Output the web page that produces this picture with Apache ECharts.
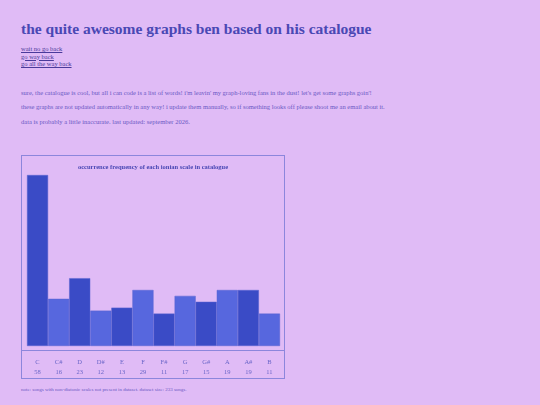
<!DOCTYPE html>
<html><head><meta charset="utf-8">
<script src="https://cdn.jsdelivr.net/npm/echarts@6/dist/echarts.min.js"></script>
<style>
html,body{margin:0;padding:0;background:#e0bbf6;width:540px;height:405px;overflow:hidden;font-family:"Liberation Serif","DejaVu Serif",serif;}
#h{position:absolute;left:21px;top:20px;font-size:15.5px;font-weight:bold;color:#4a48b4;margin:0;white-space:nowrap}
.lk{position:absolute;left:21px;font-size:6.5px;color:#4a3a9a;text-decoration:underline;white-space:nowrap}
.p{position:absolute;left:21px;font-size:6.5px;color:#6a58c4;white-space:nowrap}
#box{position:absolute;left:21px;top:155px;width:262px;height:222px;border:1px solid #8c86dc}
#note{position:absolute;left:21px;top:387px;font-size:5px;color:#6a58c4;white-space:nowrap}
</style></head><body>
<div id="h">the quite awesome graphs ben based on his catalogue</div>
<div class="lk" style="top:45px">wait no go back</div>
<div class="lk" style="top:52.5px">go way back</div>
<div class="lk" style="top:60px">go all the way back</div>
<div class="p" style="top:89px">sure, the catalogue is cool, but all i can code is a list of words! i'm leavin' my graph-loving fans in the dust! let's get some graphs goin'!</div>
<div class="p" style="top:103px">these graphs are not updated automatically in any way! i update them manually, so if something looks off please shoot me an email about it.</div>
<div class="p" style="top:118px">data is probably a little inaccurate. last updated: september 2026.</div>
<div id="box"></div>
<div id="note">note: songs with non-diatonic scales not present in dataset. dataset size: 233 songs.</div>
<script>
const categories=["C","C#","D","D#","E","F","F#","G","G#","A","A#","B"];
const barValues=[58,16,23,12,13,19,11,17,15,19,19,11];
const countLabels=["58","16","23","12","13","29","11","17","15","19","19","11"];
const dark="#3a4bc6", light="#5767de";
const chart=echarts.init(document.getElementById('box'),null,{renderer:'canvas'});
chart.setOption({
  animation:false,
  title:{text:"occurrence frequency of each ionian scale in catalogue",left:'center',top:3,
    textStyle:{fontFamily:"Liberation Serif",fontSize:6.5,fontWeight:'bold',color:'#4a48b4'}},
  grid:{left:5,right:4,top:19,bottom:32},
  xAxis:{type:'category',data:categories,axisLine:{show:false},axisTick:{show:false},
    axisLabel:{margin:11,lineHeight:10,fontFamily:"Liberation Serif",fontSize:6.5,color:'#6a66c8',
      formatter:(v,i)=>v+"\n"+countLabels[i]}},
  yAxis:{type:'value',min:0,max:58,show:false,splitLine:{show:false}},
  graphic:[{type:'rect',left:0,top:194,shape:{width:262,height:1},style:{fill:'#8c86dc'}}],
  series:[{type:'bar',barCategoryGap:'0%',
    data:barValues.map((v,i)=>({value:v,itemStyle:{color:i%2?light:dark,borderColor:'#5a64d0',borderWidth:0.5}}))}]
});
</script></body></html>
